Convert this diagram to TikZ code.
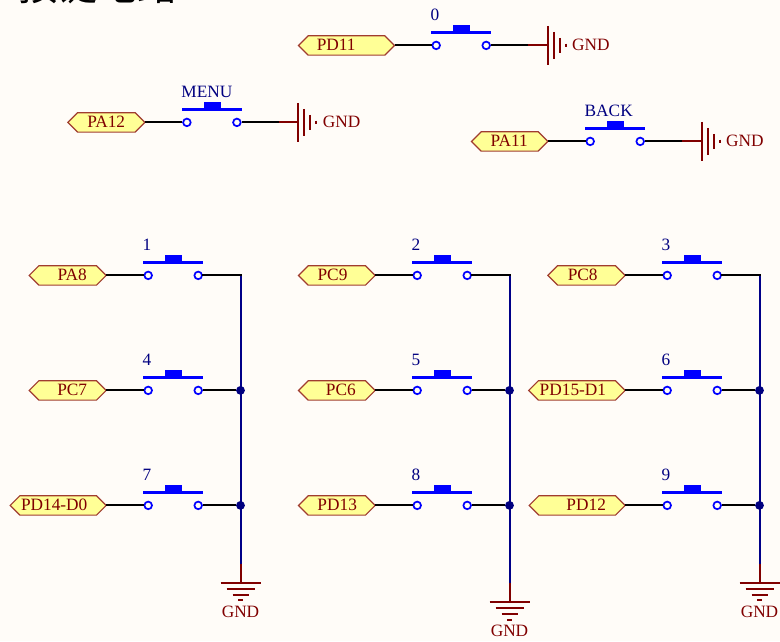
\documentclass[tikz,border=0pt]{standalone}
\usepackage{fontspec}
\setmainfont{Liberation Serif}
\newfontfamily\cjkfont{Noto Sans CJK SC}
\definecolor{paper}{HTML}{FFFCF8}
\definecolor{swblue}{HTML}{0000FF}
\definecolor{netblue}{HTML}{000088}
\definecolor{dred}{HTML}{800000}
\definecolor{portedge}{HTML}{A03C30}
\definecolor{portfill}{HTML}{FFFF96}
\definecolor{lblue}{HTML}{000080}
\tikzset{
  wire/.style={black,line width=2pt},
  netline/.style={netblue,line width=2pt},
  redline/.style={dred,line width=2pt},
  gndbar/.style={dred,line width=2pt},
  pinnode/.style={circle,draw=swblue,fill=paper,line width=1.7pt,minimum size=7.6pt,inner sep=0pt},
  bar/.style={fill=swblue,draw=none},
  reflabel/.style={text=lblue,inner sep=0pt,anchor=base west,font=\fontsize{17.3}{19}\selectfont},
  porttext/.style={text=dred,inner sep=0pt,anchor=base,font=\fontsize{17.3}{19}\selectfont},
  portbox/.style={draw=portedge,fill=portfill,line width=1.2pt,line join=miter},
  gndtext/.style={text=dred,inner sep=0pt,font=\fontsize{17.3}{19}\selectfont},
  junc/.style={circle,fill=lblue,inner sep=0pt,minimum size=8.8pt},
}
% name, x, y, label
\newcommand{\pushsw}[4]{
  \fill[bar] (#2-4.8,#3-14.8) rectangle (#2+55,#3-11);
  \fill[bar] (#2+16.7,#3-20.3) rectangle (#2+34,#3-14.8);
  \node[pinnode] (#1a) at (#2,#3) {};
  \node[pinnode] (#1b) at (#2+50,#3) {};
  \node[reflabel] (#1l) at (#2-5.7,#3-24.5) {#4};
}
% name, left tip x, right tip x, y, text centre x, text
\newcommand{\netport}[6]{
  \draw[portbox] (#2,#4) -- (#2+9.7,#4-9.7) -- (#3-9.7,#4-9.7) -- (#3,#4) -- (#3-9.7,#4+9.7) -- (#2+9.7,#4+9.7) -- cycle;
  \coordinate (#1) at (#3,#4);
  \node[porttext] (#1t) at (#5,#4+5.5) {#6};
}
% name, x, y : power port to the right, bars from x
\newcommand{\gndright}[3]{
  \coordinate (#1w) at (#2-19.3,#3);
  \coordinate (#1p) at (#2,#3);
  \draw[gndbar] (#2,#3-19.5) -- (#2,#3+19.5);
  \draw[gndbar] (#2+6,#3-13.5) -- (#2+6,#3+13.5);
  \draw[gndbar] (#2+12,#3-7.5) -- (#2+12,#3+7.5);
  \draw[gndbar] (#2+18,#3-1.8) -- (#2+18,#3+1.8);
  \node[gndtext,anchor=base west] (#1t) at (#2+24.4,#3+5.5) {GND};
}
% name, x, y : power port downward
\newcommand{\gnddown}[3]{
  \coordinate (#1w) at (#2,#3-19);
  \coordinate (#1p) at (#2,#3);
  \draw[gndbar] (#2-20,#3) -- (#2+20,#3);
  \draw[gndbar] (#2-14,#3+6) -- (#2+14,#3+6);
  \draw[gndbar] (#2-8,#3+12) -- (#2+8,#3+12);
  \draw[gndbar] (#2-2.5,#3+17.5) -- (#2+2.5,#3+17.5);
  \node[gndtext,anchor=base] (#1t) at (#2,#3+34.5) {GND};
}
\begin{document}
\begin{tikzpicture}[x=1pt,y=-1pt]
\useasboundingbox (0,0) rectangle (780,641);
\fill[paper] (0,0) rectangle (780,641);
\begin{scope}
\clip (0,0) rectangle (780,641);
\node[inner sep=0pt,anchor=base,black,font=\cjkfont\fontsize{40}{44}\selectfont] (title) at (98,0.5) {按键电路};
\end{scope}

\begin{scope}[yshift=-0.4pt,xshift=0.2pt]
\coordinate (ca) at (240.3,275);
\coordinate (cc) at (509.3,275);
\coordinate (ce) at (759.3,275);

% top switches
\netport{pd11}{298.3}{394.3}{45}{336}{PD11}
\pushsw{s0}{436}{45}{0}
\gndright{g0}{547.3}{45}
\draw[wire] (pd11) -- (s0a);
\draw[wire] (s0b) -- (g0w);
\draw[redline] (g0w) -- (g0p);

\netport{pa12}{67.7}{144.7}{122}{106}{PA12}
\pushsw{sm}{186.7}{122}{MENU}
\gndright{gm}{298}{122}
\draw[wire] (pa12) -- (sma);
\draw[wire] (smb) -- (gmw);
\draw[redline] (gmw) -- (gmp);

\netport{pa11}{471.3}{547.7}{141}{509}{PA11}
\pushsw{sb}{590}{141}{BACK}
\gndright{gb}{701.3}{141}
\draw[wire] (pa11) -- (sba);
\draw[wire] (sbb) -- (gbw);
\draw[redline] (gbw) -- (gbp);

% grid
\netport{pa8}{29}{106}{275}{72}{PA8}
\netport{pc7}{29}{106}{390}{72}{PC7}
\netport{pd14}{10}{106}{505}{54}{PD14-D0}
\netport{pc9}{298.3}{375}{275}{332.3}{PC9}
\netport{pc6}{298.3}{375}{390}{340.7}{PC6}
\netport{pd13}{298.3}{375}{505}{337}{PD13}
\netport{pc8}{547.7}{625}{275}{582.5}{PC8}
\netport{pd15}{528.5}{625}{390}{572.7}{PD15-D1}
\netport{pd12}{529}{625}{505}{586}{PD12}

\pushsw{s1}{148}{275}{1}
\pushsw{s4}{148}{390}{4}
\pushsw{s7}{148}{505}{7}
\pushsw{s2}{417}{275}{2}
\pushsw{s5}{417}{390}{5}
\pushsw{s8}{417}{505}{8}
\pushsw{s3}{667}{275}{3}
\pushsw{s6}{667}{390}{6}
\pushsw{s9}{667}{505}{9}

\gnddown{ga}{240.3}{582.3}
\gnddown{gc}{509.3}{601.7}
\gnddown{ge}{759.3}{582.3}

\draw[netline] (ca) -- (gaw);
\draw[netline] (cc) -- (gcw);
\draw[netline] (ce) -- (gew);
\draw[redline] (gaw) -- (gap);
\draw[redline] (gcw) -- (gcp);
\draw[redline] (gew) -- (gep);

\node[junc] (j4) at (240.3,390) {};
\node[junc] (j7) at (240.3,505) {};
\node[junc] (j5) at (509.3,390) {};
\node[junc] (j8) at (509.3,505) {};
\node[junc] (j6) at (759.3,390) {};
\node[junc] (j9) at (759.3,505) {};

\foreach \p/\q in {pa8/s1a,pc7/s4a,pd14/s7a,pc9/s2a,pc6/s5a,pd13/s8a,pc8/s3a,pd15/s6a,pd12/s9a,
  s4b/j4,s7b/j7,s5b/j5,s8b/j8,s6b/j6,s9b/j9}{\draw[wire] (\p) -- (\q);}
\draw[wire,line cap=rect] (s1b) -- (ca);
\draw[wire,line cap=rect] (s2b) -- (cc);
\draw[wire,line cap=rect] (s3b) -- (ce);
\end{scope}
\end{tikzpicture}
\end{document}
